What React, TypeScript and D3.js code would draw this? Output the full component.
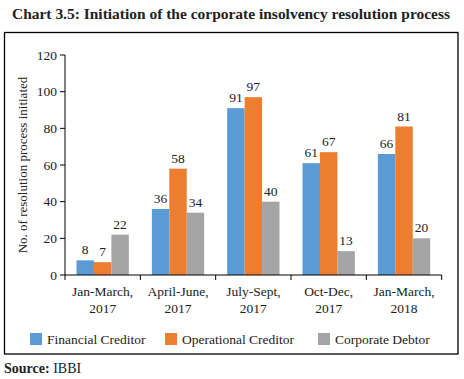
import React from "react";
import * as d3 from "d3";

const categories = [["Jan-March,", "2017"], ["April-June,", "2017"], ["July-Sept,", "2017"], ["Oct-Dec,", "2017"], ["Jan-March,", "2018"]];
const seriesNames = ["Financial Creditor", "Operational Creditor", "Corporate Debtor"];
const financial = [8, 36, 91, 61, 66];
const operational = [7, 58, 97, 67, 81];
const corporate = [22, 34, 40, 13, 20];
const yTicks = [0, 20, 40, 60, 80, 100, 120];
const colors = ["#5B9BD5", "#ED7D31", "#A5A5A5"];

const FONT = "Liberation Serif";
const ts: React.CSSProperties = { fontFamily: FONT };

export default function App() {
  const W = 464, H = 379;
  const left = 65, right = 441.7, top = 55, bottom = 275;
  const catKeys = categories.map((c) => c.join(" "));
  const x0 = d3.scaleBand().domain(catKeys).range([left, right]).padding(0);
  const bw = x0.bandwidth();
  const gw = 52.3;
  const x1 = d3.scaleBand().domain(seriesNames).range([(bw - gw) / 2, (bw + gw) / 2]).padding(0);
  const y = d3.scaleLinear().domain([0, 120]).range([bottom, top]);
  const data = [financial, operational, corporate];
  const boundaries = catKeys.map((k) => x0(k) as number).concat([right]);

  return (
    <svg width={W} height={H} style={{ position: "absolute", left: 0, top: 0, background: "#fff" }}>
      <rect x={0} y={0} width={W} height={H} fill="#fff" />
      <text x={12} y={19} style={ts} fontSize={15.2} fontWeight="bold" fill="#222" textLength={438} lengthAdjust="spacingAndGlyphs">
        Chart 3.5: Initiation of the corporate insolvency resolution process
      </text>
      <rect x={4.5} y={32.5} width={453.5} height={321.5} fill="none" stroke="#000" strokeWidth={1.3} />

      {/* y axis */}
      <line x1={left} x2={left} y1={top} y2={bottom} stroke="#000" strokeWidth={1} />
      {yTicks.map((t) => (
        <g key={t}>
          <line x1={left - 5} x2={left} y1={y(t)} y2={y(t)} stroke="#000" />
          <text x={left - 8} y={y(t) + 4.5} style={ts} fontSize={13.5} textAnchor="end" fill="#222">{t}</text>
        </g>
      ))}
      <text transform={`translate(27,${(top + bottom) / 2}) rotate(-90)`} style={ts} fontSize={13} textAnchor="middle" fill="#222">
        No. of resolution process initiated
      </text>

      {/* bars */}
      {catKeys.map((k, i) => (
        <g key={k} transform={`translate(${x0(k)},0)`}>
          {seriesNames.map((s, j) => {
            const v = data[j][i];
            const bx = x1(s) as number;
            return (
              <g key={s}>
                <rect x={bx} y={y(v)} width={x1.bandwidth()} height={bottom - y(v)} fill={colors[j]} />
                <text x={bx + x1.bandwidth() / 2} y={y(v) - 6} style={ts} fontSize={13.5} textAnchor="middle" fill="#222">{v}</text>
              </g>
            );
          })}
        </g>
      ))}

      {/* x axis */}
      <line x1={left} x2={right} y1={bottom} y2={bottom} stroke="#000" strokeWidth={1} />
      {boundaries.map((b, i) => (
        <line key={i} x1={b} x2={b} y1={bottom} y2={bottom + 5} stroke="#000" />
      ))}
      {categories.map((c, i) => (
        <text key={i} style={ts} fontSize={13.5} textAnchor="middle" fill="#222">
          <tspan x={(x0(catKeys[i]) as number) + bw / 2} y={296}>{c[0]}</tspan>
          <tspan x={(x0(catKeys[i]) as number) + bw / 2} y={313}>{c[1]}</tspan>
        </text>
      ))}

      {/* legend */}
      {seriesNames.map((s, j) => {
        const lx = [30, 165, 318][j];
        return (
          <g key={s}>
            <rect x={lx} y={333} width={12} height={12} fill={colors[j]} />
            <text x={lx + 17} y={344} style={ts} fontSize={13.5} fill="#222">{s}</text>
          </g>
        );
      })}

      <text x={4} y={373} style={ts} fontSize={14} fill="#222">
        <tspan fontWeight="bold">Source:</tspan> IBBI
      </text>
    </svg>
  );
}
